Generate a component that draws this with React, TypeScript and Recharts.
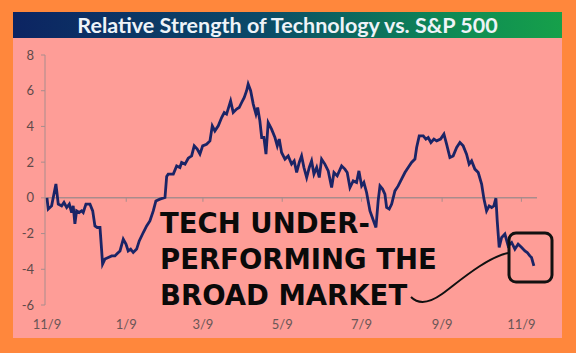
import React from "react"
import { LineChart, Line, XAxis, YAxis, ReferenceLine } from "recharts"

// days since 11/9
const days = [
  0, 1, 3.6, 6.9, 8.7, 11.3, 13.1, 15.2, 17.2, 19, 20.2, 21.5, 22.8, 24.8, 26.7, 27.9, 30, 33.1, 35.2, 36.9,
  38.7, 40.8, 42.1, 42.8, 44.6, 47.2, 49.8, 52.3, 54.1, 56.2, 58.7, 60.8, 62.5, 64.4, 66.4, 69, 71, 74.1, 76.7, 79.2,
  81.8, 83.8, 86.9, 90.8, 92.1, 93.3, 97.2, 99.8, 102.3, 103.6, 106.2, 108.7, 111.3, 113.3, 115.6, 117.7, 119.8, 122.8, 125.4, 127.2,
  129.2, 131.8, 134.4, 136.4, 138.2, 141.3, 143.3, 145.9, 147.9, 149.8, 151.8, 153.6, 154.8, 156.7, 158.7, 160.8, 162.1, 163.8, 165.2, 166.9,
  168.5, 170.2, 172.8, 175.4, 177.2, 178.7, 180.5, 183.1, 185.6, 188.2, 190.2, 192.1, 194.1, 195.9, 197.7, 199.8, 201.8, 203.6, 205.4, 207.5,
  209.5, 211.3, 213.8, 216.4, 219, 220.8, 223.3, 226.7, 229.2, 231, 233.1, 235.6, 238.2, 240, 242.1, 243.8, 245.9, 248.5, 250.8, 253.1,
  254.8, 256.2, 258.2, 260, 261.3, 263.3, 265.2, 267.7, 270.2, 272.8, 275.4, 277.9, 280.5, 283.1, 284.4, 286.4, 289.5, 291.5, 293.3, 295.4,
  297.7, 299.8, 302.8, 305.4, 307.5, 310, 312.5, 315.2, 317.7, 320.2, 322.8, 324.8, 326.7, 329.2, 331.8, 334.4, 336.2, 338.2, 340.2, 342.1,
  343.8, 345.4, 346.4, 347.9, 349.8, 352.3, 354.8, 357.5, 360, 362.5, 365.2, 367.7, 369.5, 371.5, 372.8, 374.6,
]

const strength = [
  0, -0.63, -0.45, 0.78, -0.35, -0.45, -0.26, -0.54, -0.35, -0.82, -0.45, -1.46, -0.73, -0.82, -0.73, -0.82, -0.35, -0.35, -0.73, -1.57,
  -1.66, -1.66, -2.97, -3.71, -3.43, -3.34, -3.25, -3.25, -3.12, -2.97, -2.31, -2.59, -2.97, -2.87, -3.06, -2.87, -2.41, -1.94, -1.57, -1.29,
  -0.73, -0.17, -0.07, 0.02, 1.2, 1.33, 1.33, 1.79, 1.7, 1.98, 1.89, 2.22, 2.35, 2.91, 2.73, 2.45, 2.91, 3.0, 3.19, 4.03,
  3.75, 4.03, 4.5, 4.78, 4.69, 5.43, 4.78, 4.97, 5.06, 5.34, 5.62, 6.0, 6.37, 6.0, 5.25, 4.69, 5.06, 4.31, 3.38, 3.38,
  2.45, 4.22, 3.85, 3.38, 2.91, 3.29, 2.54, 2.17, 2.35, 1.89, 2.07, 1.42, 1.98, 2.35, 1.7, 1.14, 1.7, 2.07, 1.33, 1.7,
  1.14, 2.17, 1.89, 1.51, 0.58, 1.42, 1.23, 1.79, 1.61, 1.42, 0.58, 0.95, 0.86, 1.51, 0.67, 0.86, 0.3, -0.73, -1.2, -1.66,
  -0.17, 0.67, 0.49, 0.21, -0.54, -0.63, -0.35, 0.39, 0.67, 1.05, 1.42, 1.7, 1.98, 2.17, 2.82, 3.47, 3.47, 3.29, 3.38, 3.1,
  3.29, 3.19, 3.29, 3.57, 3.0, 2.26, 2.35, 2.82, 3.1, 2.91, 2.45, 1.89, 2.07, 1.61, 1.42, 0.77, -0.07, -0.73, -0.45, -0.54,
  -0.45, -0.02, -1.29, -2.78, -2.22, -2.03, -2.69, -2.5, -2.87, -2.59, -2.78, -2.97, -3.06, -3.25, -3.34, -3.81,
]

const tickDays = [0, 61, 120, 181, 242, 304, 365]
const tickLabels = ["11/9", "1/9", "3/9", "5/9", "7/9", "9/9", "11/9"]
const yTicks = [-6, -4, -2, 0, 2, 4, 6, 8]

const data = days.map((d, i) => ({ day: d, rs: strength[i] }))

const labelFor = (d: number) => tickLabels[tickDays.indexOf(d)] ?? ""

export default function App() {
  return (
    <div style={{ position: "fixed", left: 0, top: 0, width: 576, height: 353, background: "#FF873C", overflow: "hidden" }}>
      <div
        style={{
          position: "absolute", left: 13, top: 12, width: 549, height: 26,
          background: "linear-gradient(90deg, #0C2462 0%, #0B4A68 45%, #0E8A55 80%, #16A04A 100%)",
          color: "#EEF3F8", fontFamily: "Lato, 'Open Sans', sans-serif", fontWeight: 700, fontSize: 21.5,
          lineHeight: "26px", textAlign: "center",
        }}
      >
        Relative Strength of Technology vs. S&amp;P 500
      </div>
      <div style={{ position: "absolute", left: 13, top: 38, width: 549, height: 300, background: "#FE9D97" }}>
        <LineChart width={549} height={300} data={data} margin={{ top: 17, right: 25, bottom: 3, left: 0 }}>
          <XAxis
            dataKey="day"
            type="number"
            domain={[-1.5, 377]}
            ticks={tickDays}
            tickFormatter={labelFor}
            axisLine={false}
            tickLine={false}
            tickSize={0}
            tickMargin={15}
            height={30}
            tick={{ fill: "#6A5656", fontSize: 13, fontFamily: "Lato, sans-serif" }}
          />
          <YAxis
            type="number"
            domain={[-6, 8]}
            ticks={yTicks}
            width={32}
            axisLine={{ stroke: "#A98C8C" }}
            tickLine={{ stroke: "#A98C8C" }}
            tickSize={4}
            tickMargin={7}
            tick={{ fill: "#5E4A4A", fontSize: 13, fontFamily: "Lato, sans-serif" }}
          />
          <ReferenceLine y={0} stroke="#A98C8C" strokeWidth={1.5} />
          {tickDays.map((t) => (
            <ReferenceLine
              key={`tk-${t}`}
              segment={[{ x: t, y: 0 }, { x: t, y: -0.22 }]}
              stroke="#A98C8C"
            />
          ))}
          <Line
            type="linear"
            dataKey="rs"
            stroke="#1B2466"
            strokeWidth={2.8}
            dot={false}
            isAnimationActive={false}
          />
        </LineChart>
      </div>
      <div
        style={{
          position: "absolute", left: 160, top: 205, color: "#0A0A0A",
          fontFamily: "'DejaVu Sans', sans-serif", fontWeight: 700, fontSize: 27.5, lineHeight: "36px",
          whiteSpace: "pre",
        }}
      >
        {"TECH UNDER-\nPERFORMING THE\nBROAD MARKET"}
      </div>
      <svg style={{ position: "absolute", left: 0, top: 0 }} width={576} height={353}>
        <path d="M 411 297 C 418 304, 428 304, 442 294 S 485 258, 508 253" fill="none" stroke="#111" strokeWidth={2} />
        <rect x={509} y={233} width={43} height={49} rx={7} fill="none" stroke="#111" strokeWidth={3} />
      </svg>
    </div>
  )
}
